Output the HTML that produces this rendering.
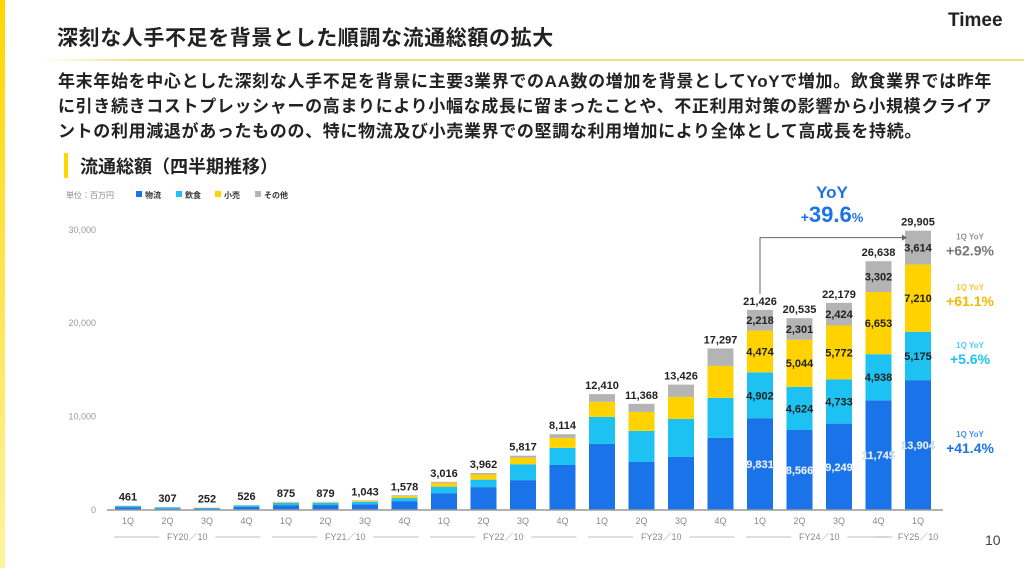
<!DOCTYPE html>
<html><head><meta charset="utf-8"><style>
body{margin:0;width:1024px;height:568px;overflow:hidden;background:#fff;font-family:"Liberation Sans","Noto Sans CJK JP",sans-serif;position:relative}
.abs{position:absolute;white-space:nowrap}
</style></head><body>
<div class="abs" style="left:0;top:0;width:5px;height:568px;background:linear-gradient(#ffd600,#fff3a0)"></div>
<div class="abs" style="left:57px;top:22px;font-size:21px;font-weight:bold;color:#222;letter-spacing:0.6px">深刻な人手不足を背景とした順調な流通総額の拡大</div>
<div class="abs" style="left:948px;top:10px;font-size:19px;font-weight:bold;color:#222">Timee</div>
<div class="abs" style="left:40px;top:59px;width:984px;height:2px;background:linear-gradient(90deg,#fff,#f3e27a 10%,#f3e27a)"></div>
<div class="abs" style="left:58px;top:69px;font-size:17px;font-weight:bold;color:#222;line-height:25px">
<div style="letter-spacing:0.65px">年末年始を中心とした深刻な人手不足を背景に主要3業界でのAA数の増加を背景としてYoYで増加。飲食業界では昨年</div>
<div style="letter-spacing:0.65px">に引き続きコストプレッシャーの高まりにより小幅な成長に留まったことや、不正利用対策の影響から小規模クライア</div>
<div style="letter-spacing:0.65px">ントの利用減退があったものの、特に物流及び小売業界での堅調な利用増加により全体として高成長を持続。</div>
</div>
<div class="abs" style="left:64px;top:153px;width:4px;height:25px;background:#ffd600"></div>
<div class="abs" style="left:80px;top:153px;font-size:18px;font-weight:bold;color:#222">流通総額（四半期推移）</div>
<div class="abs" style="left:985px;top:532px;font-size:14px;color:#444">10</div>
<svg class="abs" style="left:0;top:0" width="1024" height="568" id="chart"></svg>
<script>
const categories=["1Q","2Q","3Q","4Q","1Q","2Q","3Q","4Q","1Q","2Q","3Q","4Q","1Q","2Q","3Q","4Q","1Q","2Q","3Q","4Q","1Q"];
const fiscalYears=["FY20／10","FY21／10","FY22／10","FY23／10","FY24／10","FY25／10"];
const logistics=[300,150,150,330,520,530,620,950,1800,2450,3200,4820,7070,5140,5680,7720,9831,8566,9249,11745,13904];
const food=[140,140,80,160,250,240,260,330,700,800,1700,1830,2900,3330,4070,4280,4902,4624,4733,4938,5175];
const retail=[15,10,15,25,70,70,110,210,400,550,700,1070,1610,2030,2360,3430,4474,5044,5772,6653,7210];
const other=[6,7,7,11,35,39,53,88,116,162,217,394,830,868,1316,1867,2218,2301,2424,3302,3614];
const totals=[461,307,252,526,875,879,1043,1578,3016,3962,5817,8114,12410,11368,13426,17297,21426,20535,22179,26638,29905];
const yTicks=[0,10000,20000,30000];
const yTickLabels=["0","10,000","20,000","30,000"];
const labeledFrom=16;
const yoyLabels=["+41.4%","+5.6%","+61.1%","+62.9%"];
const svg=document.getElementById('chart');const NS="http://www.w3.org/2000/svg";
const y=v=>510-v*0.00934; const x=i=>128+i*39.5; const bw=26;
function mk(t,a,p){const e=document.createElementNS(NS,t);for(const k in a)e.setAttribute(k,a[k]);(p||svg).appendChild(e);return e;}
function tx(s,a){const e=mk('text',Object.assign({'font-family':'Liberation Sans, Noto Sans CJK JP, sans-serif'},a));e.textContent=s;return e;}
const cols=["#1a73e8","#1ec2f2","#ffd200","#b4b4b4"];const series=[logistics,food,retail,other];
yTicks.forEach((t,i)=>{const e=tx(yTickLabels[i],{x:96,y:y(t)+3,'text-anchor':'end','font-size':9,fill:'#999'});

});
const lg=tx("単位：百万円",{x:66,y:198,'font-size':8,fill:'#888'});


["物流","飲食","小売","その他"].forEach((n,i)=>{const lx=[136,176,215,255][i];
const r=mk('rect',{x:lx,y:191,width:6,height:6,fill:cols[i]});


const t=tx(n,{x:lx+9,y:198,'font-size':8,'font-weight':'bold',fill:'#333'});

});
categories.forEach((c,i)=>{let acc=0;
series.forEach((s,k)=>{const v=s[i];const r=mk('rect',{x:x(i)-bw/2,y:y(acc+v),width:bw,height:y(acc)-y(acc+v),fill:cols[k]});


if(i>=labeledFrom){const t=tx(v.toLocaleString('en-US'),{x:x(i),y:y(acc+v/2)+4,'text-anchor':'middle','font-size':11,'font-weight':'bold',fill:k==0?'#fff':'#222',stroke:k==0?'#8fb8f0':'none','stroke-width':k==0?0.4:0});

}
acc+=v;});
const tt=tx(totals[i].toLocaleString('en-US'),{x:x(i),y:y(totals[i])-5,'text-anchor':'middle','font-size':11,'font-weight':'bold',fill:'#222'});


const cl=tx(c,{x:x(i),y:524,'text-anchor':'middle','font-size':9,fill:'#888'});

});
const ax=mk('line',{x1:107,y1:510,x2:943,y2:510,stroke:'#999','stroke-width':1.5});


fiscalYears.forEach((f,j)=>{const n=j<5?4:1;const a=x(j*4)-14,b=x(j*4+n-1)+14;const cx=(a+b)/2;
const t=tx(f,{x:cx,y:540,'text-anchor':'middle','font-size':9,fill:'#888'});


if(n>1){mk('line',{x1:a,y1:537,x2:cx-28,y2:537,stroke:'#aaa','stroke-width':0.8});mk('line',{x1:cx+28,y1:537,x2:b,y2:537,stroke:'#aaa','stroke-width':0.8});}
else{mk('line',{x1:a-30,y1:537,x2:cx-30,y2:537,stroke:'#aaa','stroke-width':0.8});}});
const ar=mk('path',{d:`M${x(16)} ${y(totals[16])-16} V${y(totals[20])+7} H${x(20)-16}`,fill:'none',stroke:'#666','stroke-width':1});


mk('path',{d:`M${x(20)-16} ${y(totals[20])+4} L${x(20)-11} ${y(totals[20])+7} L${x(20)-16} ${y(totals[20])+10}Z`,fill:'#666'});
const yy=tx("YoY",{x:832,y:198,'text-anchor':'middle','font-size':17,'font-weight':'bold',fill:'#1a73e8'});


const yv=mk('text',{x:832,y:222,'text-anchor':'middle','font-family':'Liberation Sans, sans-serif','font-weight':'bold',fill:'#1a73e8'});
yv.innerHTML='<tspan font-size="14">+</tspan><tspan font-size="22">39.6</tspan><tspan font-size="13">%</tspan>';


let acc=0;const yc=["#1a73e8","#1ec2f2","#f5b800","#777"];
series.forEach((s,k)=>{const mid=y(acc+s[20]/2);acc+=s[20];
const a=tx("1Q YoY",{x:970,y:mid-8,'text-anchor':'middle','font-size':8,'font-weight':'bold',fill:yc[k],opacity:0.8});


const b=tx(yoyLabels[k],{x:970,y:mid+8,'text-anchor':'middle','font-size':14,'font-weight':'bold',fill:yc[k]});

});
</script>
</body></html>
